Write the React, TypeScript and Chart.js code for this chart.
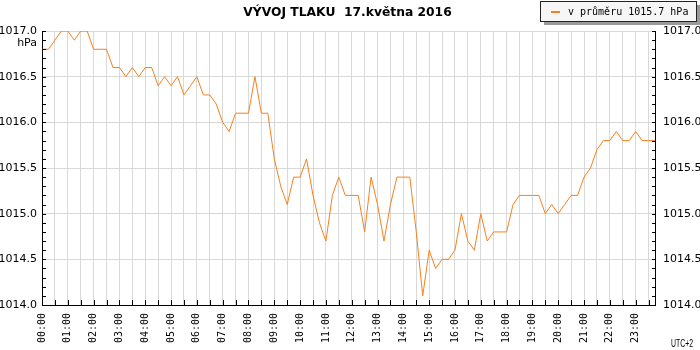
import React, { useEffect, useRef } from "react";
import { Chart, registerables } from "chart.js";

Chart.register(...registerables);

const TITLE = "VÝVOJ TLAKU  17.května 2016";
const LEGEND_LABEL = "v průměru 1015.7 hPa";
const UNIT = "hPa";
const TIMEZONE = "UTC+2";

const HOURS = [
  "00:00", "01:00", "02:00", "03:00", "04:00", "05:00", "06:00", "07:00",
  "08:00", "09:00", "10:00", "11:00", "12:00", "13:00", "14:00", "15:00",
  "16:00", "17:00", "18:00", "19:00", "20:00", "21:00", "22:00", "23:00",
];
const QUARTERS = ["00", "15", "30", "45"];

// pressure every 15 minutes, 00:00 .. 23:45 (hPa)
const PRESSURE = [
  1016.8, 1016.8, 1016.9, 1017.0, 1017.0, 1016.9, 1017.0, 1017.0,
  1016.8, 1016.8, 1016.8, 1016.6, 1016.6, 1016.5, 1016.6, 1016.5,
  1016.6, 1016.6, 1016.4, 1016.5, 1016.4, 1016.5, 1016.3, 1016.4,
  1016.5, 1016.3, 1016.3, 1016.2, 1016.0, 1015.9, 1016.1, 1016.1,
  1016.1, 1016.5, 1016.1, 1016.1, 1015.6, 1015.3, 1015.1, 1015.4,
  1015.4, 1015.6, 1015.2, 1014.9, 1014.7, 1015.2, 1015.4, 1015.2,
  1015.2, 1015.2, 1014.8, 1015.4, 1015.1, 1014.7, 1015.1, 1015.4,
  1015.4, 1015.4, 1014.8, 1014.1, 1014.6, 1014.4, 1014.5, 1014.5,
  1014.6, 1015.0, 1014.7, 1014.6, 1015.0, 1014.7, 1014.8, 1014.8,
  1014.8, 1015.1, 1015.2, 1015.2, 1015.2, 1015.2, 1015.0, 1015.1,
  1015.0, 1015.1, 1015.2, 1015.2, 1015.4, 1015.5, 1015.7, 1015.8,
  1015.8, 1015.9, 1015.8, 1015.8, 1015.9, 1015.8, 1015.8, 1015.8,
];

const Y_MIN = 1014.0;
const Y_MAX = 1017.0;
const Y_LABEL_STEP = 0.5;
const Y_MINOR_STEP = 0.1;

const LINE_COLOR = "#f7801e";
const GRID_COLOR = "#d9d9d9";

const TIMES = HOURS.flatMap((h) => QUARTERS.map((q) => h.slice(0, 3) + q));

const decoPlugin = {
  id: "deco",
  afterDraw(chart: any) {
    const { ctx, chartArea: a, scales } = chart;
    const ys = scales.y;
    const xs = scales.x;
    ctx.save();
    // inner tick marks
    ctx.strokeStyle = "#000";
    ctx.lineWidth = 1;
    ctx.beginPath();
    const nMinor = Math.round((Y_MAX - Y_MIN) / Y_MINOR_STEP);
    for (let k = 0; k <= nMinor; k++) {
      const py = Math.round(ys.getPixelForValue(Y_MIN + k * Y_MINOR_STEP)) + 0.5;
      ctx.moveTo(a.left, py);
      ctx.lineTo(a.left + 4, py);
      ctx.moveTo(a.right + 1, py);
      ctx.lineTo(a.right - 3, py);
    }
    for (let i = 0; i < TIMES.length; i += 2) {
      const px = Math.round(xs.getPixelForValue(i)) + 0.5;
      ctx.moveTo(px, a.bottom);
      ctx.lineTo(px, a.bottom - 5);
    }
    ctx.stroke();

    // title
    ctx.fillStyle = "#000";
    ctx.font = 'bold 12.3px "DejaVu Sans", sans-serif';
    ctx.textAlign = "center";
    ctx.textBaseline = "middle";
    ctx.fillText(TITLE, 347.5, 13);

    // unit
    ctx.font = '11px "DejaVu Sans", sans-serif';
    ctx.textAlign = "right";
    ctx.fillText(UNIT, 37, 43);

    // timezone (narrow lettering)
    ctx.save();
    ctx.font = '11px "Liberation Sans", sans-serif';
    ctx.textAlign = "left";
    ctx.textBaseline = "alphabetic";
    ctx.translate(671, 347);
    const w = ctx.measureText(TIMEZONE).width;
    ctx.scale(22 / w, 1);
    ctx.fillText(TIMEZONE, 0, 0);
    ctx.restore();

    // legend box
    ctx.fillStyle = "#9a9a9a";
    ctx.fillRect(544, 5, 156, 20);
    ctx.fillStyle = "#f6f6f6";
    ctx.fillRect(540, 1, 157, 21);
    ctx.strokeStyle = "#222";
    ctx.lineWidth = 1;
    ctx.strokeRect(540.5, 1.5, 156, 20);
    ctx.strokeStyle = LINE_COLOR;
    ctx.lineWidth = 2;
    ctx.beginPath();
    ctx.moveTo(551, 12);
    ctx.lineTo(560, 12);
    ctx.stroke();
    ctx.fillStyle = "#000";
    ctx.font = '10px "DejaVu Sans Mono", monospace';
    ctx.textAlign = "left";
    ctx.textBaseline = "middle";
    ctx.fillText(chart.data.datasets[0].label, 568, 12);
    ctx.restore();
  },
};

export default function App() {
  const ref = useRef<HTMLCanvasElement | null>(null);
  useEffect(() => {
    if (!ref.current) return;
    const yTickFont = { family: '"DejaVu Sans", sans-serif', size: 11 };
    const chart = new Chart(ref.current, {
      type: "line",
      data: {
        labels: TIMES,
        datasets: [
          {
            label: LEGEND_LABEL,
            data: PRESSURE,
            borderColor: LINE_COLOR,
            backgroundColor: LINE_COLOR,
            borderWidth: 1,
            pointRadius: 0,
            tension: 0,
            fill: false,
          },
        ],
      },
      options: {
        responsive: false,
        animation: false,
        events: [],
        layout: { padding: { top: 31, left: 0, right: 0, bottom: 0 } },
        plugins: {
          legend: { display: false },
          title: { display: false },
          tooltip: { enabled: false },
        },
        scales: {
          x: {
            type: "category",
            offset: false,
            grid: {
              color: (c: any) => (c.index % 2 === 0 ? GRID_COLOR : "rgba(0,0,0,0)"),
              drawTicks: false,
            },
            border: { color: "#000", width: 1 },
            ticks: {
              autoSkip: false,
              maxRotation: 90,
              minRotation: 90,
              padding: 8,
              color: "#000",
              font: { family: '"DejaVu Sans Mono", monospace', size: 10 },
              callback: (_v: any, i: number) => (i % 4 === 0 ? TIMES[i] : ""),
            },
            afterFit: (s: any) => {
              s.height = 45;
            },
          },
          y: {
            position: "left",
            min: Y_MIN,
            max: Y_MAX,
            grid: { color: GRID_COLOR, drawTicks: false },
            border: { color: "#000", width: 1 },
            ticks: {
              stepSize: Y_LABEL_STEP,
              padding: 5,
              color: "#000",
              font: yTickFont,
              callback: (v: any) => Number(v).toFixed(1),
            },
            afterFit: (s: any) => {
              s.width = 42;
            },
          },
          y2: {
            position: "right",
            min: Y_MIN,
            max: Y_MAX,
            grid: { drawOnChartArea: false, drawTicks: false },
            border: { color: "#000", width: 1 },
            ticks: {
              stepSize: Y_LABEL_STEP,
              padding: 8,
              color: "#000",
              font: yTickFont,
              callback: (v: any) => Number(v).toFixed(1),
            },
            afterFit: (s: any) => {
              s.width = 45;
            },
          },
        },
      },
      plugins: [decoPlugin],
    } as any);
    return () => chart.destroy();
  }, []);
  return (
    <div style={{ position: "absolute", left: 0, top: 0, width: 700, height: 350, background: "#fff" }}>
      <canvas ref={ref} width={700} height={350} style={{ display: "block" }} />
    </div>
  );
}
